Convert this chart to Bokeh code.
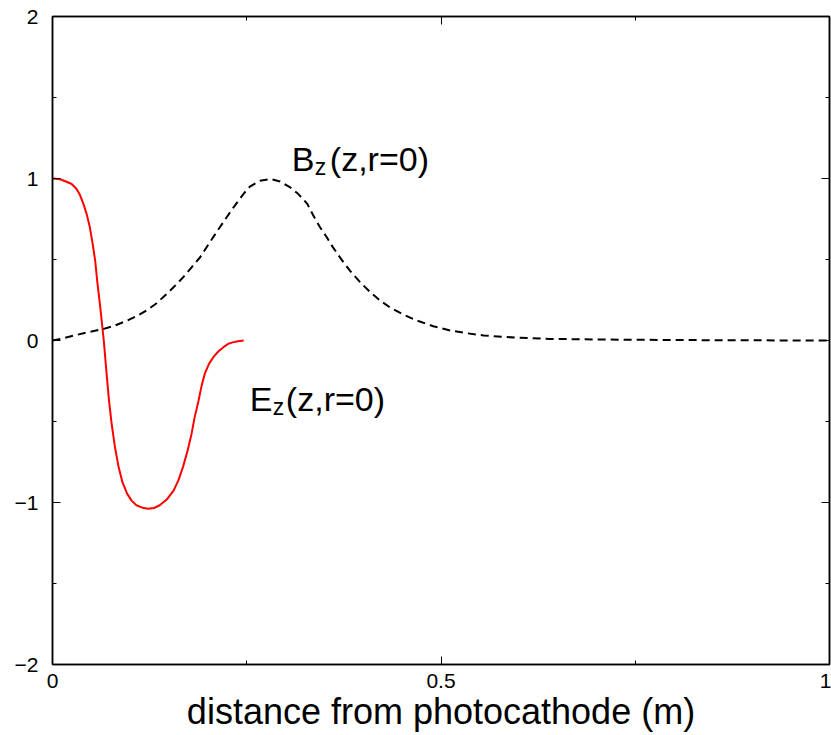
from bokeh.plotting import figure
from bokeh.models import Range1d, FixedTicker, LinearAxis, Label
from bokeh.embed import file_html
from bokeh.resources import INLINE

# E_z(z, r=0) — RF gun field (normalised)
ez_x = [0.0, 0.0097, 0.018, 0.0247, 0.031, 0.0354, 0.040, 0.044, 0.048, 0.0517,
        0.055, 0.0577, 0.061, 0.066, 0.070, 0.0727, 0.076, 0.0804, 0.085, 0.0899,
        0.096, 0.102, 0.108, 0.1156, 0.123, 0.1306, 0.138, 0.147, 0.156, 0.162,
        0.168, 0.174, 0.179, 0.183, 0.188, 0.192, 0.196, 0.2014, 0.207, 0.2134,
        0.220, 0.2263, 0.233, 0.239, 0.246]
ez_y = [1.0, 0.995, 0.98, 0.966, 0.935, 0.898, 0.84, 0.78, 0.70, 0.596,
        0.49, 0.36, 0.226, 0.0, -0.226, -0.37, -0.51, -0.658, -0.78, -0.873,
        -0.945, -0.99, -1.017, -1.032, -1.038, -1.034, -1.017, -0.982, -0.925, -0.863,
        -0.78, -0.678, -0.575, -0.473, -0.37, -0.277, -0.205, -0.144, -0.103, -0.068,
        -0.041, -0.02, -0.01, -0.004, 0.0]

# B_z(z, r=0) — solenoid field (normalised)
bz_x = [0.0, 0.0139, 0.027, 0.046, 0.066, 0.080, 0.096, 0.108, 0.121, 0.134,
        0.147, 0.158, 0.168, 0.179, 0.190, 0.2005, 0.211, 0.222, 0.233, 0.2456,
        0.254, 0.267, 0.280, 0.293, 0.306, 0.3164, 0.328, 0.3357, 0.3443, 0.353,
        0.361, 0.372, 0.383, 0.396, 0.409, 0.4215, 0.434, 0.4515, 0.469, 0.490,
        0.512, 0.533, 0.555, 0.598, 0.640, 0.70, 0.80, 0.90, 1.0]
bz_y = [0.0, 0.014, 0.03, 0.051, 0.072, 0.092, 0.123, 0.15, 0.185, 0.23,
        0.288, 0.339, 0.39, 0.452, 0.514, 0.592, 0.668, 0.746, 0.822, 0.904,
        0.950, 0.986, 0.997, 0.982, 0.945, 0.904, 0.843, 0.771, 0.699, 0.637,
        0.575, 0.499, 0.43, 0.36, 0.298, 0.247, 0.205, 0.16, 0.123, 0.088,
        0.062, 0.045, 0.031, 0.017, 0.010, 0.006, 0.003, 0.001, 0.0]

x_ticks = [0, 0.5, 1]
x_minor = [0.25, 0.75]
x_labels = {0: "0", 0.5: "0.5", 1: "1"}
y_ticks = [-2, -1, 0, 1, 2]
y_minor = [-1.5, -0.5, 0.5, 1.5]
y_labels = {-2: "\u22122", -1: "\u22121", 0: "0", 1: "1", 2: "2"}

FONT = "Liberation Sans"

p = figure(width=831, height=735, output_backend="svg", toolbar_location=None,
           x_range=Range1d(0, 1), y_range=Range1d(-2, 2),
           min_border_left=52, min_border_right=2, min_border_top=16,
           min_border_bottom=71)
p.grid.visible = False
p.outline_line_color = "black"
p.outline_line_width = 1.5
p.background_fill_color = "white"
p.border_fill_color = "white"

p.line(ez_x, ez_y, line_color="#ff0000", line_width=2, line_join="round")
p.line(bz_x, bz_y, line_color="black", line_width=2, line_dash="8 5",
       line_join="round")


def style(ax, ticks, minor, labels, show):
    ax.ticker = FixedTicker(ticks=ticks, minor_ticks=minor)
    ax.major_tick_in = 8
    ax.major_tick_out = 0
    ax.minor_tick_in = 4
    ax.minor_tick_out = 0
    ax.axis_line_color = "black"
    ax.axis_line_width = 1.5
    ax.major_tick_line_color = "black"
    ax.minor_tick_line_color = "black"
    ax.major_tick_line_width = 1
    ax.minor_tick_line_width = 1
    ax.major_label_text_font = FONT
    ax.major_label_text_color = "black"
    if show:
        ax.major_label_overrides = labels
        ax.major_label_text_font_size = "21px"
    else:
        ax.major_label_overrides = {k: "" for k in labels}
        ax.major_label_text_font_size = "0px"
        ax.major_label_standoff = 0


xa = p.xaxis[0]
style(xa, x_ticks, x_minor, x_labels, True)
xa.major_label_standoff = 9
xa.axis_label = "distance from photocathode (m)"
xa.axis_label_text_font = FONT
xa.axis_label_text_font_size = "36px"
xa.axis_label_text_font_style = "normal"
xa.axis_label_text_color = "black"
xa.axis_label_standoff = 0

ya = p.yaxis[0]
style(ya, y_ticks, y_minor, y_labels, True)
ya.major_label_standoff = 14

ra = LinearAxis()
style(ra, y_ticks, y_minor, y_labels, False)
p.add_layout(ra, "right")

ta = LinearAxis()
style(ta, x_ticks, x_minor, x_labels, False)
p.add_layout(ta, "above")


def add_label(x, y, main, sub_off, paren_off):
    common = dict(x=x, y=y, text_font=FONT, text_color="black",
                  text_baseline="alphabetic", text_align="left")
    p.add_layout(Label(text=main, text_font_size="34px", **common))
    p.add_layout(Label(text="z", text_font_size="23px", x_offset=sub_off,
                       y_offset=-8, **common))
    p.add_layout(Label(text="(z,r=0)", text_font_size="34px",
                       x_offset=paren_off, **common))


add_label(0.308, 1.118, "B", 23, 38)
add_label(0.254, -0.362, "E", 23, 36)

open("out.html", "w").write(file_html(p, INLINE))
